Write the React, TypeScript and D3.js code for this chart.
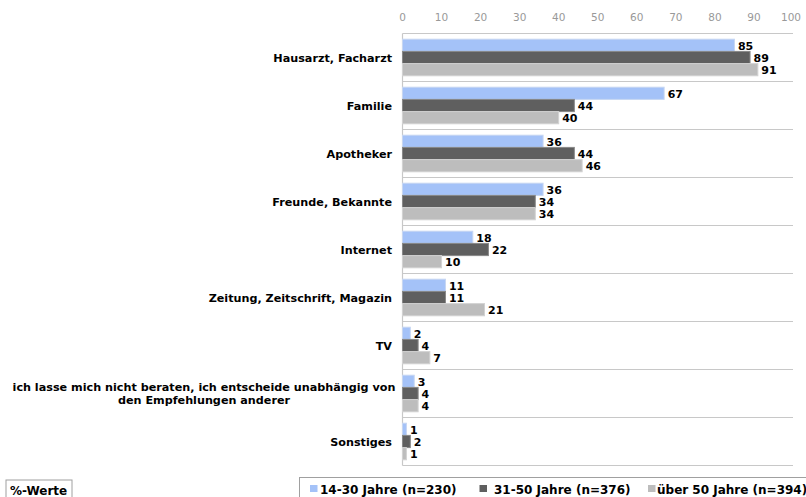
import React from "react";
import * as d3 from "d3";

const categories = [
  ["Hausarzt, Facharzt"],
  ["Familie"],
  ["Apotheker"],
  ["Freunde, Bekannte"],
  ["Internet"],
  ["Zeitung, Zeitschrift, Magazin"],
  ["TV"],
  ["ich lasse mich nicht beraten, ich entscheide unabhängig von", "den Empfehlungen anderer"],
  ["Sonstiges"],
];
const seriesNames = ["14-30 Jahre (n=230)", "31-50 Jahre (n=376)", "über 50 Jahre (n=394)"];
const young = [85, 67, 36, 36, 18, 11, 2, 3, 1];
const middle = [89, 44, 44, 34, 22, 11, 4, 4, 2];
const old = [91, 40, 46, 34, 10, 21, 7, 4, 1];
const ticks = [0, 10, 20, 30, 40, 50, 60, 70, 80, 90, 100];
const colors = ["#a4c2f8", "#5f5f5f", "#bdbdbd"];
const strokes = ["#c6d6f2", "#888888", "#d2d2d2"];

export default function App() {
  const W = 806, H = 497;
  const font = "'DejaVu Sans', Verdana, sans-serif";
  const x = d3.scaleLinear().domain([0, 100]).range([402.5, 793]);
  const y = d3.scaleBand().domain(categories.map((_, i) => String(i))).range([33.5, 465.5]);
  const series = [young, middle, old];
  const barH = 12.2;
  const legendSq = [310, 479.5, 648];
  const legendTx = [320, 494, 657];
  return (
    <svg width={W} height={H} style={{ position: "absolute", left: 0, top: 0, background: "#fff" }} fontFamily={font}>
      {ticks.map((t) => (
        <text key={t} x={x(t) - (t === 100 ? 2 : 0)} y={20.5} textAnchor="middle" fontSize={10.5} fill="#999">{t}</text>
      ))}
      {categories.map((_, i) => (
        <line key={"s" + i} x1={x(0)} x2={x(100)} y1={y(String(i))!} y2={y(String(i))!} stroke="#c8c8c8" strokeWidth={1.2} />
      ))}
      <line x1={x(0)} x2={x(100)} y1={465.5} y2={465.5} stroke="#c8c8c8" strokeWidth={1.2} />
      <line x1={x(0)} x2={x(0)} y1={33.5} y2={465.5} stroke="#c8c8c8" strokeWidth={1.2} />
      {categories.map((lines, i) => {
        const y0 = y(String(i))!;
        const cy = y0 + y.bandwidth() / 2;
        const start = cy - (barH * 3) / 2;
        return (
          <g key={"c" + i}>
            {lines.length === 1 ? (
              <text x={392} y={cy + 4.8} textAnchor="end" fontSize={11.2} fontWeight="bold" fill="#000">{lines[0]}</text>
            ) : (
              lines.map((l, j) => (
                <text key={j} x={204} y={cy + 4 + (j - 0.5) * 13} textAnchor="middle"
                  fontSize={11.2} fontWeight="bold" fill="#000">{l}</text>
              ))
            )}
            {series.map((s, k) => (
              <g key={k}>
                <rect x={x(0)} y={start + k * barH} width={x(s[i]) - x(0)} height={barH}
                  fill={colors[k]} stroke={strokes[k]} strokeWidth={1} />
                <text x={x(s[i]) + 3.5} y={start + k * barH + barH / 2 + 4.5} fontSize={11} fontWeight="bold" fill="#000">{s[i]}</text>
              </g>
            ))}
          </g>
        );
      })}
      <rect x={6} y={480} width={66} height={22} fill="#fff" stroke="#a0a0a0" />
      <text x={10} y={494.5} fontSize={12} fontWeight="bold" fill="#000">%-Werte</text>
      <rect x={299.5} y={477.5} width={520} height={30} fill="#fff" stroke="#a0a0a0" />
      {seriesNames.map((n, k) => (
        <g key={n}>
          <rect x={legendSq[k]} y={485} width={7.5} height={7} fill={colors[k]} />
          <text x={legendTx[k]} y={493.5} fontSize={12} fontWeight="bold" fill="#000">{n}</text>
        </g>
      ))}
    </svg>
  );
}
